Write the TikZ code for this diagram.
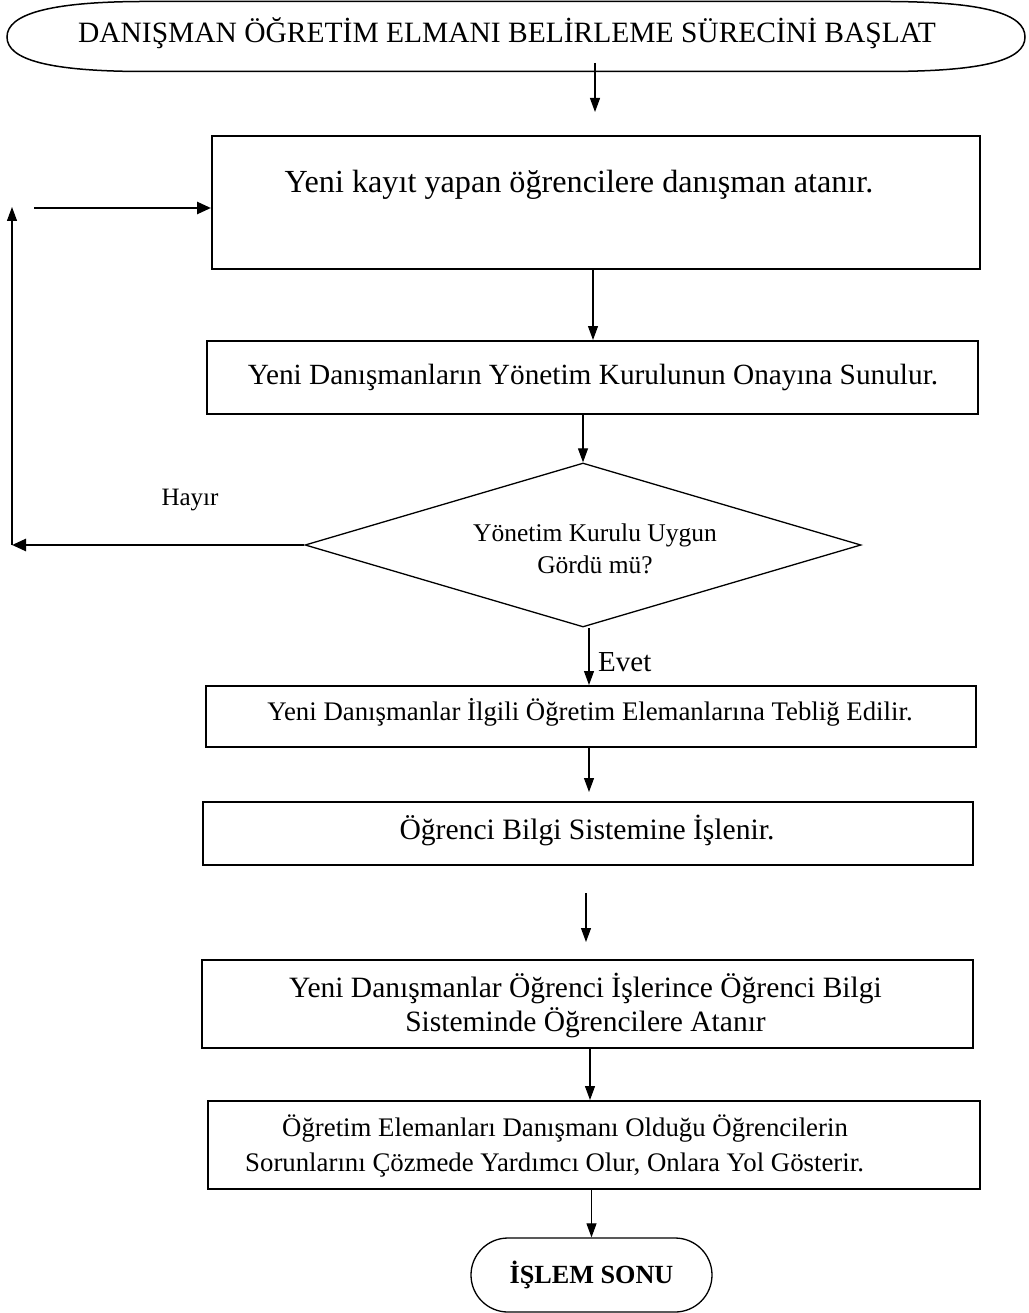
\documentclass[tikz,border=0pt]{standalone}
\usepackage{fontspec}
\setmainfont{Liberation Serif}
\usetikzlibrary{arrows.meta,shapes.geometric,calc}
\tikzset{
  boxst/.style={draw, line width=1.7pt, inner sep=0pt, anchor=north west},
  txt/.style={inner sep=0pt, align=center},
  arr/.style={-{Triangle[length=14pt,width=10pt]}, line width=1.1pt},
  tarr/.style={-{Triangle[length=14pt,width=12pt]}, line width=2.6pt},
}
\newcommand{\fs}[2]{\fontsize{#1}{#2}\selectfont}
\begin{document}
\begin{tikzpicture}[x=1pt,y=-1pt]
\useasboundingbox (0,0) rectangle (1028,1313);

% start terminal
\node[minimum width=1018, minimum height=70, inner sep=0pt] (start) at (516,37) {};
\draw[line width=1.5pt] (7,37) .. controls (7,14) and (50,2) .. (140,1.5) -- (890,1.5)
  .. controls (985,2) and (1025,14) .. (1025,37)
  .. controls (1025,60) and (985,71) .. (890,71.5) -- (140,71.5)
  .. controls (50,71) and (7,60) .. (7,37) -- cycle;
\node[txt, font=\fs{29.5}{34}] (starttxt) at (507,33) {DANIŞMAN ÖĞRETİM ELMANI BELİRLEME SÜRECİNİ BAŞLAT};

% boxes
\node[boxst, minimum width=768, minimum height=133] (b1) at (211,135) {};
\node[txt, font=\fs{32.2}{36}] (t1) at (579,185) {Yeni kayıt yapan öğrencilere danışman atanır.};

\node[boxst, minimum width=771, minimum height=73] (b2) at (206,340) {};
\node[txt, font=\fs{29.3}{34}] (t2) at (593,377) {Yeni Danışmanların Yönetim Kurulunun Onayına Sunulur.};

\node[draw, diamond, line width=1.3pt, minimum width=556, minimum height=164, inner sep=0pt] (d) at (583,545) {};
\node[txt, font=\fs{25.5}{32}] (dt) at (595,549) {Yönetim Kurulu Uygun\\Gördü mü?};

\node[boxst, minimum width=770, minimum height=61] (b3) at (205,685) {};
\node[txt, font=\fs{26.8}{32}] (t3) at (590,712) {Yeni Danışmanlar İlgili Öğretim Elemanlarına Tebliğ Edilir.};

\node[boxst, minimum width=770, minimum height=63] (b4) at (202,801) {};
\node[txt, font=\fs{29.6}{34}] (t4) at (587,830) {Öğrenci Bilgi Sistemine İşlenir.};

\node[boxst, minimum width=771, minimum height=88] (b5) at (201,959) {};
\node[txt, font=\fs{29.5}{34}] (t5) at (585.5,1005) {Yeni Danışmanlar Öğrenci İşlerince Öğrenci Bilgi\\Sisteminde Öğrencilere Atanır};

\node[boxst, minimum width=772, minimum height=88] (b6) at (207,1100) {};
\node[inner sep=0pt, align=left, anchor=west, font=\fs{26.8}{35}] (t6) at (245,1146) {\hspace*{37pt}Öğretim Elemanları Danışmanı Olduğu Öğrencilerin\\Sorunlarını Çözmede Yardımcı Olur, Onlara Yol Gösterir.};

\node[draw, line width=1.3pt, rounded corners=37pt, minimum width=241, minimum height=74, inner sep=0pt, font=\bfseries\fs{26.2}{30}] (end) at (591.5,1275) {İŞLEM SONU};

% labels
\node[txt, font=\fs{25}{30}] (hayir) at (190,500) {Hayır};
\node[txt, font=\fs{29}{34}, anchor=west] (evet) at (598,662) {Evet};

% connectors (vertical, at measured x positions)
\coordinate (a1s) at (595,63);
\coordinate (a1e) at (595,112);
\draw[arr] (a1s) -- (a1e);

\coordinate (x2) at (593,0);
\draw[arr] (b1.south -| x2) -- (b2.north -| x2);
\draw[arr] (b2.south -| d.north) -- (d.north);
\coordinate (d4) at (589,628);
\draw[arr] (d4) -- (b3.north -| d4);
\coordinate (a5e) at (589,792);
\draw[arr] (b3.south -| a5e) -- (a5e);
\coordinate (a6s) at (586,893);
\coordinate (a6e) at (586,942);
\draw[arr] (a6s) -- (a6e);
\coordinate (x7) at (590,0);
\draw[arr] (b5.south -| x7) -- (b6.north -| x7);
\coordinate (x8) at (591.5,0);
\draw[arr] (b6.south -| x8) -- (end.north);

% Hayir loop
\coordinate (lb) at (12,545);
\coordinate (lt) at (12,207);
\draw[tarr] (d.west) -- (lb);
\draw[arr] (lb) -- (lt);
\coordinate (rs) at (34,208);
\draw[tarr] (rs) -- (b1.west |- rs);
\end{tikzpicture}
\end{document}
